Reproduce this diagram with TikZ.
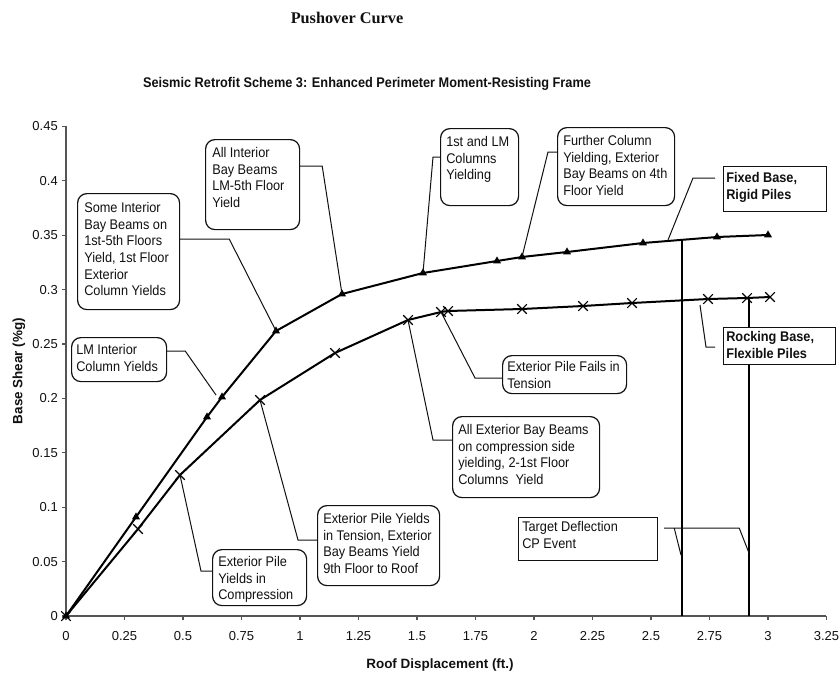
\documentclass[tikz,border=0pt]{standalone}
\usepackage{fontspec}
\setmainfont{Liberation Serif}
\setsansfont[FakeStretch=0.91]{Liberation Sans}
\newfontfamily\plainsans{Liberation Sans}
\usetikzlibrary{shapes.geometric,shapes.misc}
\definecolor{ink}{HTML}{111111}
\definecolor{axisgray}{HTML}{555555}
\tikzset{
  rbox/.style={draw=ink, line width=0.9pt, rounded corners=7pt, fill=white, inner sep=0pt},
  sbox/.style={draw=ink, line width=0.9pt, fill=white, inner sep=0pt},
  ctext/.style={inner sep=0pt, align=left, text=ink, font=\sffamily\fontsize{10.5}{12.5}\selectfont},
  leader/.style={draw=ink, line width=0.75pt},
  curve/.style={line width=1.5pt, draw=black},
  vline/.style={line width=1.2pt, draw=black},
  tri/.style={regular polygon, regular polygon sides=3, fill=black, inner sep=0pt, minimum size=6.9pt},
  xm/.style={cross out, draw=black, line width=0.8pt, inner sep=0pt, minimum size=6.5pt},
  axisline/.style={draw=axisgray, line width=0.8pt},
  ticklab/.style={inner sep=0pt, text=ink, font=\plainsans\fontsize{9.75}{11}\selectfont},
  axtitle/.style={inner sep=0pt, text=ink, font=\plainsans\bfseries\fontsize{10.1}{12}\selectfont}
}
\newcommand\callout[9]{%
  \node[#2, anchor=north west, minimum width={(#5-#3)*0.75pt}, minimum height={(#6-#4)*0.75pt}] (#1) at (#3,#4) {};
  \node[ctext, anchor=north west] (#1t) at ([shift={(#7,#8)}]#1.north west) {#9};}
\begin{document}
\begin{tikzpicture}[x=0.75pt,y=-0.75pt]
\useasboundingbox (0,0) rectangle (840,675);
\fill[white] (0,0) rectangle (840,675);

% titles
\node[inner sep=0pt, text=ink, font=\rmfamily\bfseries\fontsize{12.2}{14}\selectfont] (title) at (347,18) {Pushover Curve};
\node[inner sep=0pt, text=ink, font=\sffamily\bfseries\fontsize{10.5}{12.5}\selectfont] (subtitle) at (367,84) {Seismic Retrofit Scheme 3: Enhanced Perimeter Moment-Resisting Frame};

% axes
\draw[axisline] (66,126) -- (66,616) -- (826,616);
\foreach \k/\t in {0/0,1/0.05,2/0.1,3/0.15,4/0.2,5/0.25,6/0.3,7/0.35,8/0.4,9/0.45}{
  \draw[axisline] (62,{616-54.4*\k}) -- (66,{616-54.4*\k});
  \node[ticklab, anchor=east] (yl\k) at (58,{616-54.4*\k}) {\t};
}
\foreach \k/\t in {0/0,1/0.25,2/0.5,3/0.75,4/1,5/1.25,6/1.5,7/1.75,8/2,9/2.25,10/2.5,11/2.75,12/3,13/3.25}{
  \draw[axisline] ({66+58.5*\k},616) -- ({66+58.5*\k},620);
  \node[ticklab] (xl\k) at ({66+58.5*\k},636) {\t};
}
\node[axtitle, rotate=90] (ytitle) at (19,371) {Base Shear (\%g)};
\node[axtitle] (xtitle) at (440,665) {Roof Displacement (ft.)};

% data: fixed base, rigid piles
\coordinate (F0) at (66,616);
\coordinate (F1) at (136,517);
\coordinate (F2) at (207,417);
\coordinate (F3) at (222,397);
\coordinate (F4) at (276,331);
\coordinate (F5) at (342,294);
\coordinate (F6) at (423,273);
\coordinate (F7) at (497,261);
\coordinate (F8) at (522,257);
\coordinate (F9) at (567,252);
\coordinate (F10) at (643,243);
\coordinate (F11) at (717,237);
\coordinate (F12) at (768,235);
% data: rocking base, flexible piles
\coordinate (R0) at (66,616);
\coordinate (R1) at (138,529);
\coordinate (R2) at (180,475);
\coordinate (R3) at (260,400);
\coordinate (R4) at (335,353);
\coordinate (R5) at (408,320);
\coordinate (R6) at (441,312);
\coordinate (R7) at (448,311);
\coordinate (R8) at (522,309);
\coordinate (R9) at (583,306);
\coordinate (R10) at (632,303);
\coordinate (R11) at (708,299);
\coordinate (R12) at (747,298);
\coordinate (R13) at (770,297);

% target deflection verticals
\coordinate (VFb) at (682,616);
\coordinate (VFt) at (682,240);
\coordinate (VRb) at (749,616);
\coordinate (VRt) at (749,298);
\draw[vline] (VFb) -- (VFt);
\draw[vline] (VRb) -- (VRt);

\draw[curve] (F0) -- (F1) -- (F2) -- (F3) -- (F4) -- (F5) -- (F6) -- (F7) -- (F8) -- (F9) -- (F10) -- (F11) -- (F12);
\draw[curve] (R0) -- (R1) -- (R2) -- (R3) -- (R4) -- (R5) -- (R6) -- (R7) -- (R8) -- (R9) -- (R10) -- (R11) -- (R12) -- (R13);
\foreach \i in {0,...,12}{ \node[tri] (mF\i) at (F\i) {}; }
\foreach \i in {0,...,13}{ \node[xm] (mR\i) at (R\i) {}; }

% leader end points
\coordinate (lmEnd) at (216,395);
\coordinate (fixEnd) at (668,240);
\coordinate (rockEnd) at (700,305);
\coordinate (tgA) at (681,555);
\coordinate (tgB) at (749,553);

% callouts
\callout{allint}{rbox}{205}{139}{299}{229}{7}{8}{All Interior\\Bay Beams\\LM-5th Floor\\Yield}
\callout{some}{rbox}{77}{193}{179}{309}{7}{9}{Some Interior\\Bay Beams on\\1st-5th Floors\\Yield, 1st Floor\\Exterior\\Column Yields}
\callout{lmint}{rbox}{71}{337}{166}{381}{5}{7}{LM Interior\\Column Yields}
\callout{comp}{rbox}{212}{549}{306}{605}{6}{7}{Exterior Pile\\Yields in\\Compression}
\callout{tens}{rbox}{317}{505}{439}{585}{6}{8}{Exterior Pile Yields\\in Tension, Exterior\\Bay Beams Yield\\9th Floor to Roof}
\callout{fails}{rbox}{502}{355}{626}{393}{5}{6}{Exterior Pile Fails in\\Tension}
\callout{allext}{rbox}{452}{416}{599}{497}{6}{8}{All Exterior Bay Beams\\on compression side\\yielding, 2-1st Floor\\Columns\ \ Yield}
\callout{target}{sbox}{518}{517}{657}{560}{4}{4}{Target Deflection\\CP Event}
\callout{first}{rbox}{440}{128}{518}{205}{6}{8}{1st and LM\\Columns\\Yielding}
\callout{further}{rbox}{557}{127}{674}{205}{6}{8}{Further Column\\Yielding, Exterior\\Bay Beams on 4th\\Floor Yield}
\callout{fixed}{sbox}{723}{166}{826}{211}{3}{6}{\bfseries Fixed Base,\\\bfseries Rigid Piles}
\callout{rock}{sbox}{723}{327}{835}{364}{3}{4}{\bfseries Rocking Base,\\\bfseries Flexible Piles}

% leaders
\draw[leader] ([shift={(0,27)}]allint.north east) -- ++(22,0) -- (F5);
\draw[leader] ([shift={(0,46)}]some.north east) -- ++(49,0) -- (F4);
\draw[leader] ([shift={(0,14)}]lmint.north east) -- ++(18,0) -- (lmEnd);
\draw[leader] ([shift={(0,22)}]comp.north west) -- ++(-11,0) -- (R2);
\draw[leader] ([shift={(0,35)}]tens.north west) -- ++(-19,0) -- (R3);
\draw[leader] ([shift={(0,23)}]fails.north west) -- ++(-27,0) -- (R6);
\draw[leader] ([shift={(0,24)}]allext.north west) -- ++(-19,0) -- (R5);
\draw[leader] ([shift={(0,29)}]first.north west) -- ++(-7,0) -- (F6);
\draw[leader] ([shift={(0,25)}]further.north west) -- ++(-9,0) -- (F8);
\draw[leader] ([shift={(-8,12)}]fixed.north west) -- ++(-22,0) -- (fixEnd);
\draw[leader] ([shift={(-8,20)}]rock.north west) -- ++(-9,0) -- (rockEnd);
\draw[leader] ([shift={(6,11)}]target.north east) -- ++(75,0) -- (tgB);
\draw[leader] ([shift={(16,11)}]target.north east) -- (tgA);
\end{tikzpicture}
\end{document}
